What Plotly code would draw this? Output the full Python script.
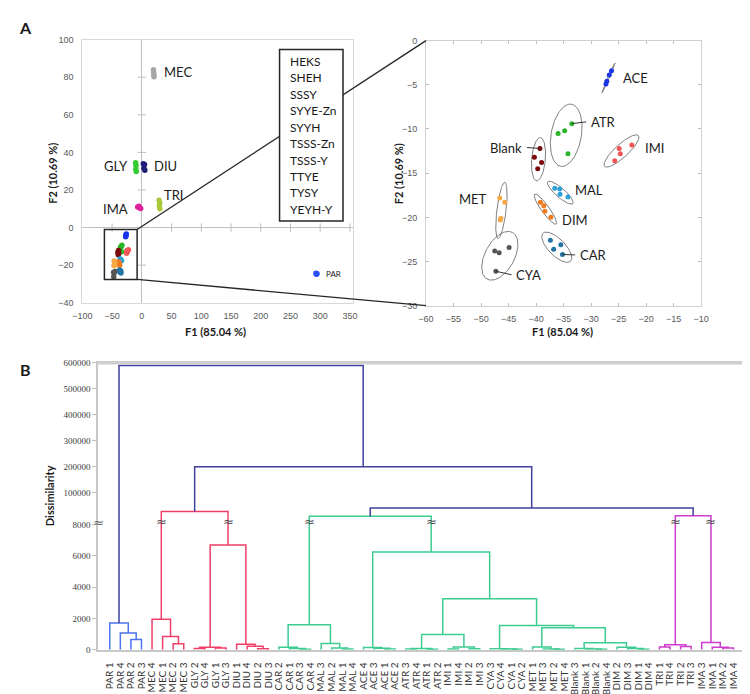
import math
import plotly.graph_objects as go

W, H = 750, 694
FONT = "Lato, 'Liberation Sans', sans-serif"

# ---------------- Panel A data (PCA scores) ----------------
groups = ["PAR", "MEC", "GLY", "DIU", "TRI", "IMA", "ACE", "ATR", "Blank",
          "IMI", "MAL", "DIM", "MET", "CYA", "CAR"]
group_colors = ["#2a4ff0", "#a6a6a6", "#33cc33", "#1f1f7a", "#a9c93a", "#e0209a",
                "#1a35e6", "#2ab52a", "#7b0a0a", "#f25555", "#2ea0d8", "#f07a1e",
                "#f6a945", "#555555", "#2474a8"]
f1 = [[293.0, 294.0, 293.5, 294.5], [19.5, 19.8, 20.2, 20.5], [-10.5, -9.8, -10.2, -9.5],
      [2.5, 4.5, 3.5, 5.0], [29.0, 30.0, 29.5, 30.3], [-7.0, -4.0, -2.0, -5.0],
      [-26.3, -26.7, -27.15, -27.3], [-33.5, -34.8, -36.0, -34.2], [-39.3, -40.3, -39.0, -39.7],
      [-22.6, -24.9, -24.7, -25.7], [-36.6, -35.7, -35.65, -34.2], [-39.2, -38.6, -38.4, -37.3],
      [-46.6, -45.7, -46.5, -46.4], [-47.5, -46.7, -44.9, -47.3], [-37.4, -35.5, -36.8, -35.2]]
f2 = [[-24.3, -24.6, -24.8, -24.5], [84.0, 82.5, 81.2, 80.2], [34.5, 33.0, 31.2, 29.8],
      [34.0, 33.5, 31.5, 30.5], [14.5, 13.0, 11.5, 10.0], [11.0, 10.6, 10.2, 11.3],
      [-3.4, -3.9, -4.6, -4.9], [-9.4, -10.2, -10.5, -12.8], [-12.2, -13.2, -13.8, -14.5],
      [-11.8, -12.2, -12.8, -13.6], [-16.7, -16.8, -17.4, -17.7], [-18.3, -18.7, -19.3, -20.0],
      [-17.8, -18.3, -20.3, -20.1], [-23.8, -24.0, -23.4, -26.1], [-22.6, -23.1, -23.6, -24.2]]

# labels in overview plot
overview_labels = ["MEC", "GLY", "DIU", "TRI", "IMA", "PAR"]
overview_lab_x = [34.6, -19.5, 17.1, 34.2, -20.7, 306.0]
overview_lab_y = [82.8, 32.9, 33.0, 17.3, 10.1, -24.6]
overview_lab_anchor = ["left", "right", "left", "left", "right", "left"]

# zoomed plot: groups, ellipse parameters (centre in data units, semi-axes in px, angle in deg)
zoom_groups = ["ACE", "ATR", "Blank", "IMI", "MAL", "DIM", "MET", "CYA", "CAR"]
ell_cx = [-26.84, -34.53, -39.55, -24.48, -35.59, -38.31, -46.29, -46.58, -36.24]
ell_cy = [-4.22, -10.71, -13.42, -12.49, -17.21, -19.07, -19.22, -24.35, -23.38]
ell_a = [16.6, 32.0, 22.0, 23.3, 17.0, 18.7, 28.7, 27.0, 20.0]
ell_b = [0.8, 15.5, 7.0, 6.7, 4.7, 4.0, 4.7, 15.0, 8.5]
ell_ang = [66, 80, 85, 42, -41, -54, 83, 61, -45]
zoom_lab_x = [-24.5, -30.45, -42.1, -20.6, -33.2, -35.7, -48.5, -44.0, -32.45]
zoom_lab_y = [-4.2, -9.2, -12.1, -12.2, -16.9, -20.3, -17.9, -26.5, -24.25]
zoom_lab_anchor = ["left", "left", "right", "left", "left", "left", "right", "left", "left"]
leader_point = {"ATR": 0, "Blank": 0, "CYA": 3, "CAR": 3}

sensor_list = ["HEKS", "SHEH", "SSSY", "SYYE-Zn", "SYYH", "TSSS-Zn", "TSSS-Y", "TTYE", "TYSY", "YEYH-Y"]

# ---------------- Panel B data (dendrogram) ----------------
leaf_labels = ["PAR 1", "PAR 4", "PAR 2", "PAR 3", "MEC 4", "MEC 1", "MEC 2", "MEC 3",
               "GLY 2", "GLY 4", "GLY 1", "GLY 3", "DIU 1", "DIU 4", "DIU 2", "DIU 3",
               "CAR 2", "CAR 1", "CAR 3", "CAR 4", "MAL 3", "MAL 2", "MAL 1", "MAL 4",
               "ACE 4", "ACE 3", "ACE 1", "ACE 2", "ATR 3", "ATR 4", "ATR 1", "ATR 2",
               "IMI 1", "IMI 4", "IMI 2", "IMI 3", "CYA 3", "CYA 4", "CYA 1", "CYA 2",
               "MET 1", "MET 3", "MET 2", "MET 4", "Blank 3", "Blank 1", "Blank 2", "Blank 4",
               "DIM 2", "DIM 3", "DIM 1", "DIM 4", "TRI 1", "TRI 4", "TRI 2", "TRI 3",
               "IMA 3", "IMA 1", "IMA 2", "IMA 4"]
# (child a, child b, dissimilarity, colour group); node ids continue after the 60 leaves
linkage = [
    (2, 3, 650, "par"), (1, 60, 1070, "par"), (0, 61, 1700, "par"),
    (6, 7, 380, "red"), (5, 63, 850, "red"), (4, 64, 1950, "red"),
    (8, 9, 80, "red"), (10, 11, 100, "red"), (66, 67, 160, "red"),
    (14, 15, 60, "red"), (13, 69, 220, "red"), (12, 70, 340, "red"),
    (68, 71, 6690, "red"), (65, 72, 46000, "red"),
    (18, 19, 30, "green"), (17, 74, 80, "green"), (16, 75, 150, "green"),
    (22, 23, 50, "green"), (21, 77, 100, "green"), (20, 78, 400, "green"),
    (76, 79, 1600, "green"),
    (26, 27, 40, "green"), (25, 81, 90, "green"), (24, 82, 140, "green"),
    (28, 29, 40, "green"), (30, 31, 30, "green"), (84, 85, 80, "green"),
    (32, 33, 40, "green"), (34, 35, 60, "green"), (87, 88, 170, "green"),
    (86, 89, 970, "green"),
    (38, 39, 20, "green"), (37, 91, 40, "green"), (36, 92, 60, "green"),
    (42, 43, 20, "green"), (41, 94, 50, "green"), (40, 95, 170, "green"),
    (46, 47, 20, "green"), (45, 97, 40, "green"), (44, 98, 80, "green"),
    (50, 51, 30, "green"), (49, 100, 80, "green"), (48, 101, 160, "green"),
    (99, 102, 440, "green"), (96, 103, 1410, "green"), (93, 104, 1540, "green"),
    (90, 105, 3260, "green"), (83, 106, 6250, "green"), (80, 107, 32000, "green"),
    (52, 53, 170, "mag"), (54, 55, 210, "mag"), (109, 110, 315, "mag"),
    (58, 59, 110, "mag"), (57, 112, 160, "mag"), (56, 113, 460, "mag"),
    (111, 114, 34000, "mag"),
    (108, 115, 56000, "navy"), (73, 116, 200000, "navy"), (62, 117, 590000, "navy"),
]
link_colors = {"par": "#4a74ee", "red": "#ef3f68", "green": "#3dcc90",
               "mag": "#cf3acf", "navy": "#40409f"}
dendro_ticks = [0, 2000, 4000, 6000, 8000, 100000, 200000, 300000, 400000, 500000, 600000]

# ---------------- geometry ----------------
BOX1 = dict(l=66, r=343, t=27, b=294, xr=[-100, 354.8], yr=[-40, 100])
BOX2 = dict(l=418, r=700, t=28, b=297, xr=[-60, -10], yr=[-30, 0])
BOX3 = dict(l=82, r=743, t=355, b=646, xr=[-1.11, 59.92], yr=[0, 18.35])


def px(x):
    return x / W


def py(y):
    return 1 - y / H


def to_px(box, x, y):
    X = box["l"] + (x - box["xr"][0]) / (box["xr"][1] - box["xr"][0]) * (box["r"] - box["l"])
    Y = box["b"] - (y - box["yr"][0]) / (box["yr"][1] - box["yr"][0]) * (box["b"] - box["t"])
    return X, Y


GAP = 2.04      # broken-axis gap (display units) between 8000 and 100000
UPPER = 1.662   # display units per 100000 above the break


def disp(v):
    if v <= 8000:
        return v / 1000.0
    if v <= 100000:
        return 8 + (v - 8000) / 92000.0 * GAP
    return 8 + GAP + (v - 100000) / 100000.0 * UPPER


fig = go.Figure()

# ---- Panel A overview scatter ----
for g, c, xs, ys in zip(groups, group_colors, f1, f2):
    fig.add_trace(go.Scatter(x=xs, y=ys, mode="markers", xaxis="x", yaxis="y",
                             marker=dict(size=5.5, color=c), showlegend=False, hoverinfo="skip"))

ov_xt = [-100, -50, 0, 50, 100, 150, 200, 250, 300, 350]
ov_yt = [-40, -20, 0, 20, 40, 60, 80, 100]
yt_marks = [v for v in ov_yt[1:-1] if v != 0]
xt_marks = [v for v in ov_xt[1:] if v != 0]
fig.add_trace(go.Scatter(x=[0] * len(yt_marks), y=yt_marks,
                         mode="markers", xaxis="x", yaxis="y", showlegend=False, hoverinfo="skip",
                         marker=dict(symbol="line-ew", size=6, line=dict(width=1, color="#bfbfbf"))))
fig.add_trace(go.Scatter(x=xt_marks, y=[0] * len(xt_marks),
                         mode="markers", xaxis="x", yaxis="y", showlegend=False, hoverinfo="skip",
                         marker=dict(symbol="line-ns", size=6, line=dict(width=1, color="#bfbfbf"))))

# ---- Panel A zoomed scatter ----
sx = (BOX2["r"] - BOX2["l"]) / (BOX2["xr"][1] - BOX2["xr"][0])
sy = (BOX2["b"] - BOX2["t"]) / (BOX2["yr"][1] - BOX2["yr"][0])
for k, g in enumerate(zoom_groups):
    th = math.radians(ell_ang[k])
    ex, ey = [], []
    for i in range(121):
        t = 2 * math.pi * i / 120
        dx = ell_a[k] * math.cos(t) * math.cos(th) - ell_b[k] * math.sin(t) * math.sin(th)
        dy = ell_a[k] * math.cos(t) * math.sin(th) + ell_b[k] * math.sin(t) * math.cos(th)
        ex.append(ell_cx[k] + dx / sx)
        ey.append(ell_cy[k] + dy / sy)
    fig.add_trace(go.Scatter(x=ex, y=ey, mode="lines", xaxis="x2", yaxis="y2",
                             line=dict(color="#7f7f7f", width=1), showlegend=False, hoverinfo="skip"))
for k, g in enumerate(zoom_groups):
    gi = groups.index(g)
    fig.add_trace(go.Scatter(x=f1[gi], y=f2[gi], mode="markers", xaxis="x2", yaxis="y2",
                             marker=dict(size=5, color=group_colors[gi]), showlegend=False,
                             hoverinfo="skip"))

# ---- Panel B dendrogram ----
pos = list(range(len(leaf_labels)))
hgt = [0.0] * len(leaf_labels)
seg = {}
for a, b, h, cg in linkage:
    hd = disp(h)
    xs, ys = seg.setdefault(cg, ([], []))
    xs += [pos[a], pos[a], pos[b], pos[b], None]
    ys += [hgt[a], hd, hd, hgt[b], None]
    pos.append((pos[a] + pos[b]) / 2)
    hgt.append(hd)
for cg, (xs, ys) in seg.items():
    fig.add_trace(go.Scatter(x=xs, y=ys, mode="lines", xaxis="x3", yaxis="y3",
                             line=dict(color=link_colors[cg], width=1.5), showlegend=False,
                             hoverinfo="skip"))

annotations = []
shapes = []


def text(x, y, s, size=13, bold=False, xanchor="center", yanchor="middle", angle=0,
         color="#1a1a1a", xref="paper", yref="paper", family=FONT):
    annotations.append(dict(x=x, y=y, xref=xref, yref=yref, text=f"<b>{s}</b>" if bold else s,
                            showarrow=False, xanchor=xanchor, yanchor=yanchor, textangle=angle,
                            font=dict(size=size, color=color, family=family)))


# overview labels
for s, x, y, anc in zip(overview_labels, overview_lab_x, overview_lab_y, overview_lab_anchor):
    text(x, y, s, size=8 if s == "PAR" else 13, xanchor=anc, xref="x", yref="y")
# zoom labels and leaders
for k, g in enumerate(zoom_groups):
    text(zoom_lab_x[k], zoom_lab_y[k], g, size=13, xanchor=zoom_lab_anchor[k], xref="x2", yref="y2")
    if g in leader_point:
        gi = groups.index(g)
        p = leader_point[g]
        off = -0.45 if zoom_lab_anchor[k] == "left" else 0.45
        shapes.append(dict(type="line", xref="x2", yref="y2", x0=f1[gi][p], y0=f2[gi][p],
                           x1=zoom_lab_x[k] + off, y1=zoom_lab_y[k],
                           line=dict(color="#333333", width=1)))

# zoom rectangle and connector lines
rx0, rx1, ry0, ry1 = -63, -8, -27.6, -1
shapes.append(dict(type="rect", xref="x", yref="y", x0=rx0, x1=rx1, y0=ry0, y1=ry1,
                   line=dict(color="#262626", width=1.5)))
tr = to_px(BOX1, rx1, ry1)
br = to_px(BOX1, rx1, ry0)
shapes.append(dict(type="line", xref="paper", yref="paper", x0=px(tr[0]), y0=py(tr[1]),
                   x1=px(BOX2["l"]), y1=py(BOX2["t"]), line=dict(color="#262626", width=1.3)))
shapes.append(dict(type="line", xref="paper", yref="paper", x0=px(br[0]), y0=py(br[1]),
                   x1=px(BOX2["l"]), y1=py(BOX2["b"]), line=dict(color="#262626", width=1.3)))

# sensor box
shapes.append(dict(type="rect", xref="paper", yref="paper", x0=px(268), x1=px(333),
                   y0=py(211), y1=py(37), line=dict(color="#262626", width=1.5),
                   fillcolor="white"))
for i, s in enumerate(sensor_list):
    text(px(277), py(49 + i * 16.7), s, size=12, xanchor="left")

# axis titles and panel letters
text(px(202), py(323), "F1 (85.04 %)", size=11, bold=True)
text(px(558), py(323), "F1 (85.04 %)", size=11, bold=True)
text(px(35), py(163), "F2 (10.69 %)", size=11, bold=True, angle=-90)
text(px(390), py(163), "F2 (10.69 %)", size=11, bold=True, angle=-90)
text(px(33), py(490), "Dissimilarity", size=11, bold=True, angle=-90)
text(px(8), py(15), "A", size=16, bold=True)
text(px(8), py(362), "B", size=16, bold=True)

# axis break marks
BRK_FONT = "'DejaVu Sans', sans-serif"
brk_y = disp(8000) + 0.18
for k, (a, b, h, cg) in enumerate(linkage):
    if 8000 < h < 100000 and cg != "navy":
        for child in (a, b):
            text(pos[child], brk_y, "≈", size=13, xref="x3", yref="y3",
                 color="#555555", family=BRK_FONT)
text(px(BOX3["l"]), py(to_px(BOX3, 0, disp(8000))[1] - 2), "≈", size=13, color="#666666",
     family=BRK_FONT)

# top border of dendrogram frame
shapes.append(dict(type="line", xref="paper", yref="paper", x0=px(BOX3["l"]), x1=px(BOX3["r"]),
                   y0=py(BOX3["t"]), y1=py(BOX3["t"]), line=dict(color="#d0d0d0", width=3)))

tickfont = dict(size=9, color="#595959", family="'Liberation Sans', sans-serif")

fig.update_layout(
    width=W, height=H, margin=dict(l=0, r=0, t=0, b=0),
    paper_bgcolor="white", plot_bgcolor="white", showlegend=False,
    font=dict(family=FONT),
    xaxis=dict(domain=[px(BOX1["l"]), px(BOX1["r"])], range=BOX1["xr"], tickvals=ov_xt,
               anchor="y", showgrid=False, zeroline=True, zerolinecolor="#bfbfbf", zerolinewidth=1,
               showline=True, mirror=True, linecolor="#d9d9d9", linewidth=1, ticks="",
               tickfont=tickfont, ticklabelstandoff=4),
    yaxis=dict(domain=[py(BOX1["b"]), py(BOX1["t"])], range=BOX1["yr"], tickvals=ov_yt,
               anchor="x", showgrid=False, zeroline=True, zerolinecolor="#bfbfbf", zerolinewidth=1,
               showline=True, mirror=True, linecolor="#d9d9d9", linewidth=1, ticks="",
               tickfont=tickfont, ticklabelstandoff=6),
    xaxis2=dict(domain=[px(BOX2["l"]), px(BOX2["r"])], range=BOX2["xr"], anchor="y2",
                tickvals=list(range(-60, -9, 5)), showgrid=False, zeroline=False,
                showline=True, mirror="ticks", linecolor="#d0d0d0", linewidth=1,
                ticks="inside", ticklen=3, tickcolor="#bfbfbf", tickfont=tickfont,
                ticklabelstandoff=4),
    yaxis2=dict(domain=[py(BOX2["b"]), py(BOX2["t"])], range=BOX2["yr"], anchor="x2",
                tickvals=list(range(-30, 1, 5)), showgrid=False, zeroline=False,
                showline=True, mirror="ticks", linecolor="#d0d0d0", linewidth=1,
                ticks="inside", ticklen=3, tickcolor="#bfbfbf", tickfont=tickfont,
                ticklabelstandoff=6),
    xaxis3=dict(domain=[px(BOX3["l"]), px(BOX3["r"])], range=BOX3["xr"], anchor="y3",
                tickvals=list(range(len(leaf_labels))), ticktext=leaf_labels, tickangle=-90,
                showgrid=False, zeroline=False, showline=True, mirror=True,
                linecolor="#c8c8c8", linewidth=1.5, ticks="",
                tickfont=dict(size=10, color="#333333", family=FONT), ticklabelstandoff=7),
    yaxis3=dict(domain=[py(BOX3["b"]), py(BOX3["t"])], range=BOX3["yr"], anchor="x3",
                tickvals=[disp(v) for v in dendro_ticks], ticktext=[str(v) for v in dendro_ticks],
                showgrid=False, zeroline=False, showline=True, mirror=True,
                linecolor="#c8c8c8", linewidth=1.5, ticks="outside", ticklen=4,
                tickcolor="#bfbfbf",
                tickfont=dict(size=9, color="#404040", family="'Liberation Serif', serif")),
    annotations=annotations, shapes=shapes,
)

fig.write_html("out.html")
